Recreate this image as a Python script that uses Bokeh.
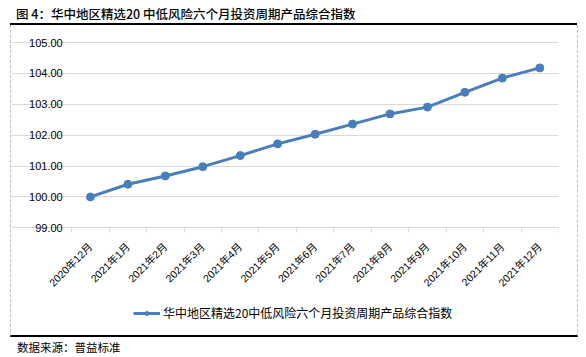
import math
from bokeh.plotting import figure
from bokeh.layouts import column
from bokeh.models import (Range1d, FixedTicker, NumeralTickFormatter, Div,
                          Legend, LegendItem)
from bokeh.embed import file_html
from bokeh.resources import INLINE

categories = ["2020年12月", "2021年1月", "2021年2月", "2021年3月", "2021年4月",
              "2021年5月", "2021年6月", "2021年7月", "2021年8月", "2021年9月",
              "2021年10月", "2021年11月", "2021年12月"]
values = [100.00, 100.41, 100.68, 100.98, 101.34, 101.72, 102.03, 102.36,
          102.69, 102.91, 103.39, 103.85, 104.18]
y_ticks = [99, 100, 101, 102, 103, 104, 105]
series_name = "华中地区精选20中低风险六个月投资周期产品综合指数"
title_text = "图 4：华中地区精选20 中低风险六个月投资周期产品综合指数"
source_text = "数据来源：普益标准"

BLUE = "#4A7EBB"
GRID = "#D9D9D9"
CJK = "'Noto Sans CJK SC'"
LAT = "'Liberation Sans', 'Noto Sans CJK SC'"

# host box (incl. CSS borders) and inner canvas size
W_HOST, H_HOST = 568, 312
CW, CH = W_HOST - 2, H_HOST - 2

# plot-area geometry inside the canvas (px)
TOP = 17          # value-axis maximum
AXIS_Y = 201      # value-axis minimum
PLOT_L = 60       # left edge of category area
RIGHT_PAD = 21

n = len(categories)
xs = list(range(n))
x_lo_cat, x_hi_cat = -0.5, n - 0.5
px_per_cat = (CW - RIGHT_PAD - PLOT_L) / n
x_left = x_lo_cat - PLOT_L / px_per_cat

px_per_unit = (AXIS_Y - TOP) / (y_ticks[-1] - y_ticks[0])
y_low = y_ticks[0] - (CH - AXIS_Y) / px_per_unit
y_high = y_ticks[-1] + TOP / px_per_unit

p = figure(width=W_HOST, height=H_HOST, output_backend="svg", toolbar_location=None,
           x_range=Range1d(x_left, x_hi_cat),
           y_range=Range1d(y_low, y_high),
           min_border_left=0, min_border_right=RIGHT_PAD,
           min_border_top=0, min_border_bottom=0,
           margin=(0, 0, 0, 10),
           styles={"border-left": "1px dashed #BFBFBF",
                   "border-right": "1px dashed #BFBFBF",
                   "border-bottom": "2px solid #000000"})
p.outline_line_color = None
p.background_fill_color = "white"
p.border_fill_color = "white"

xa = p.xaxis[0]
xa.fixed_location = y_ticks[0]
xa.bounds = (x_lo_cat, x_hi_cat)
xa.ticker = FixedTicker(ticks=xs, minor_ticks=[i - 0.5 for i in range(n + 1)])
xa.major_label_overrides = {i: c for i, c in zip(xs, categories)}
xa.major_label_orientation = math.pi / 4
xa.major_tick_out = 0
xa.major_tick_in = 0
xa.minor_tick_out = 5
xa.minor_tick_in = 0
xa.minor_tick_line_color = GRID
xa.axis_line_color = GRID
xa.major_label_text_font = LAT
xa.major_label_text_font_size = "10.5px"
xa.major_label_text_color = "#000000"
xa.major_label_standoff = 12

ya = p.yaxis[0]
ya.fixed_location = x_lo_cat
ya.ticker = FixedTicker(ticks=y_ticks)
ya.formatter = NumeralTickFormatter(format="0.00")
ya.axis_line_color = None
ya.major_tick_line_color = None
ya.major_tick_out = 0
ya.major_tick_in = 0
ya.minor_tick_line_color = None
ya.major_label_text_font = LAT
ya.major_label_text_font_size = "11px"
ya.major_label_text_color = "#000000"
ya.major_label_standoff = 9

p.xgrid.grid_line_color = None
p.ygrid.grid_line_color = GRID
p.ygrid.grid_line_width = 1
p.ygrid.bounds = (x_lo_cat, x_hi_cat)

r_line = p.line(xs, values, line_color=BLUE, line_width=3)
r_pts = p.scatter(xs, values, size=8, fill_color=BLUE, line_color=BLUE)

legend = Legend(items=[LegendItem(label=series_name, renderers=[r_line, r_pts])],
                location=(122, 16), orientation="horizontal",
                glyph_width=27, glyph_height=10, label_standoff=3,
                padding=0, margin=0, border_line_color=None,
                background_fill_alpha=0,
                label_text_font=CJK, label_text_font_size="12px",
                label_text_color="#000000")
p.add_layout(legend, "center")

title_div = Div(text=f'<span style="margin-left:6px">{title_text}</span>',
                width=567, height=25, margin=(0, 0, 0, 10),
                styles={"font-family": CJK, "font-size": "12.5px", "font-weight": "500",
                        "color": "#000000", "line-height": "27px",
                        "white-space": "nowrap",
                        "border-bottom": "2px solid #000000"})
source_div = Div(text=f'<span style="margin-left:7px">{source_text}</span>',
                 width=567, height=18, margin=(0, 0, 0, 10),
                 styles={"font-family": CJK, "font-size": "11.5px", "color": "#000000",
                         "line-height": "20px", "white-space": "nowrap"})

layout = column(title_div, p, source_div, spacing=0)

open("out.html", "w").write(file_html(layout, INLINE))
